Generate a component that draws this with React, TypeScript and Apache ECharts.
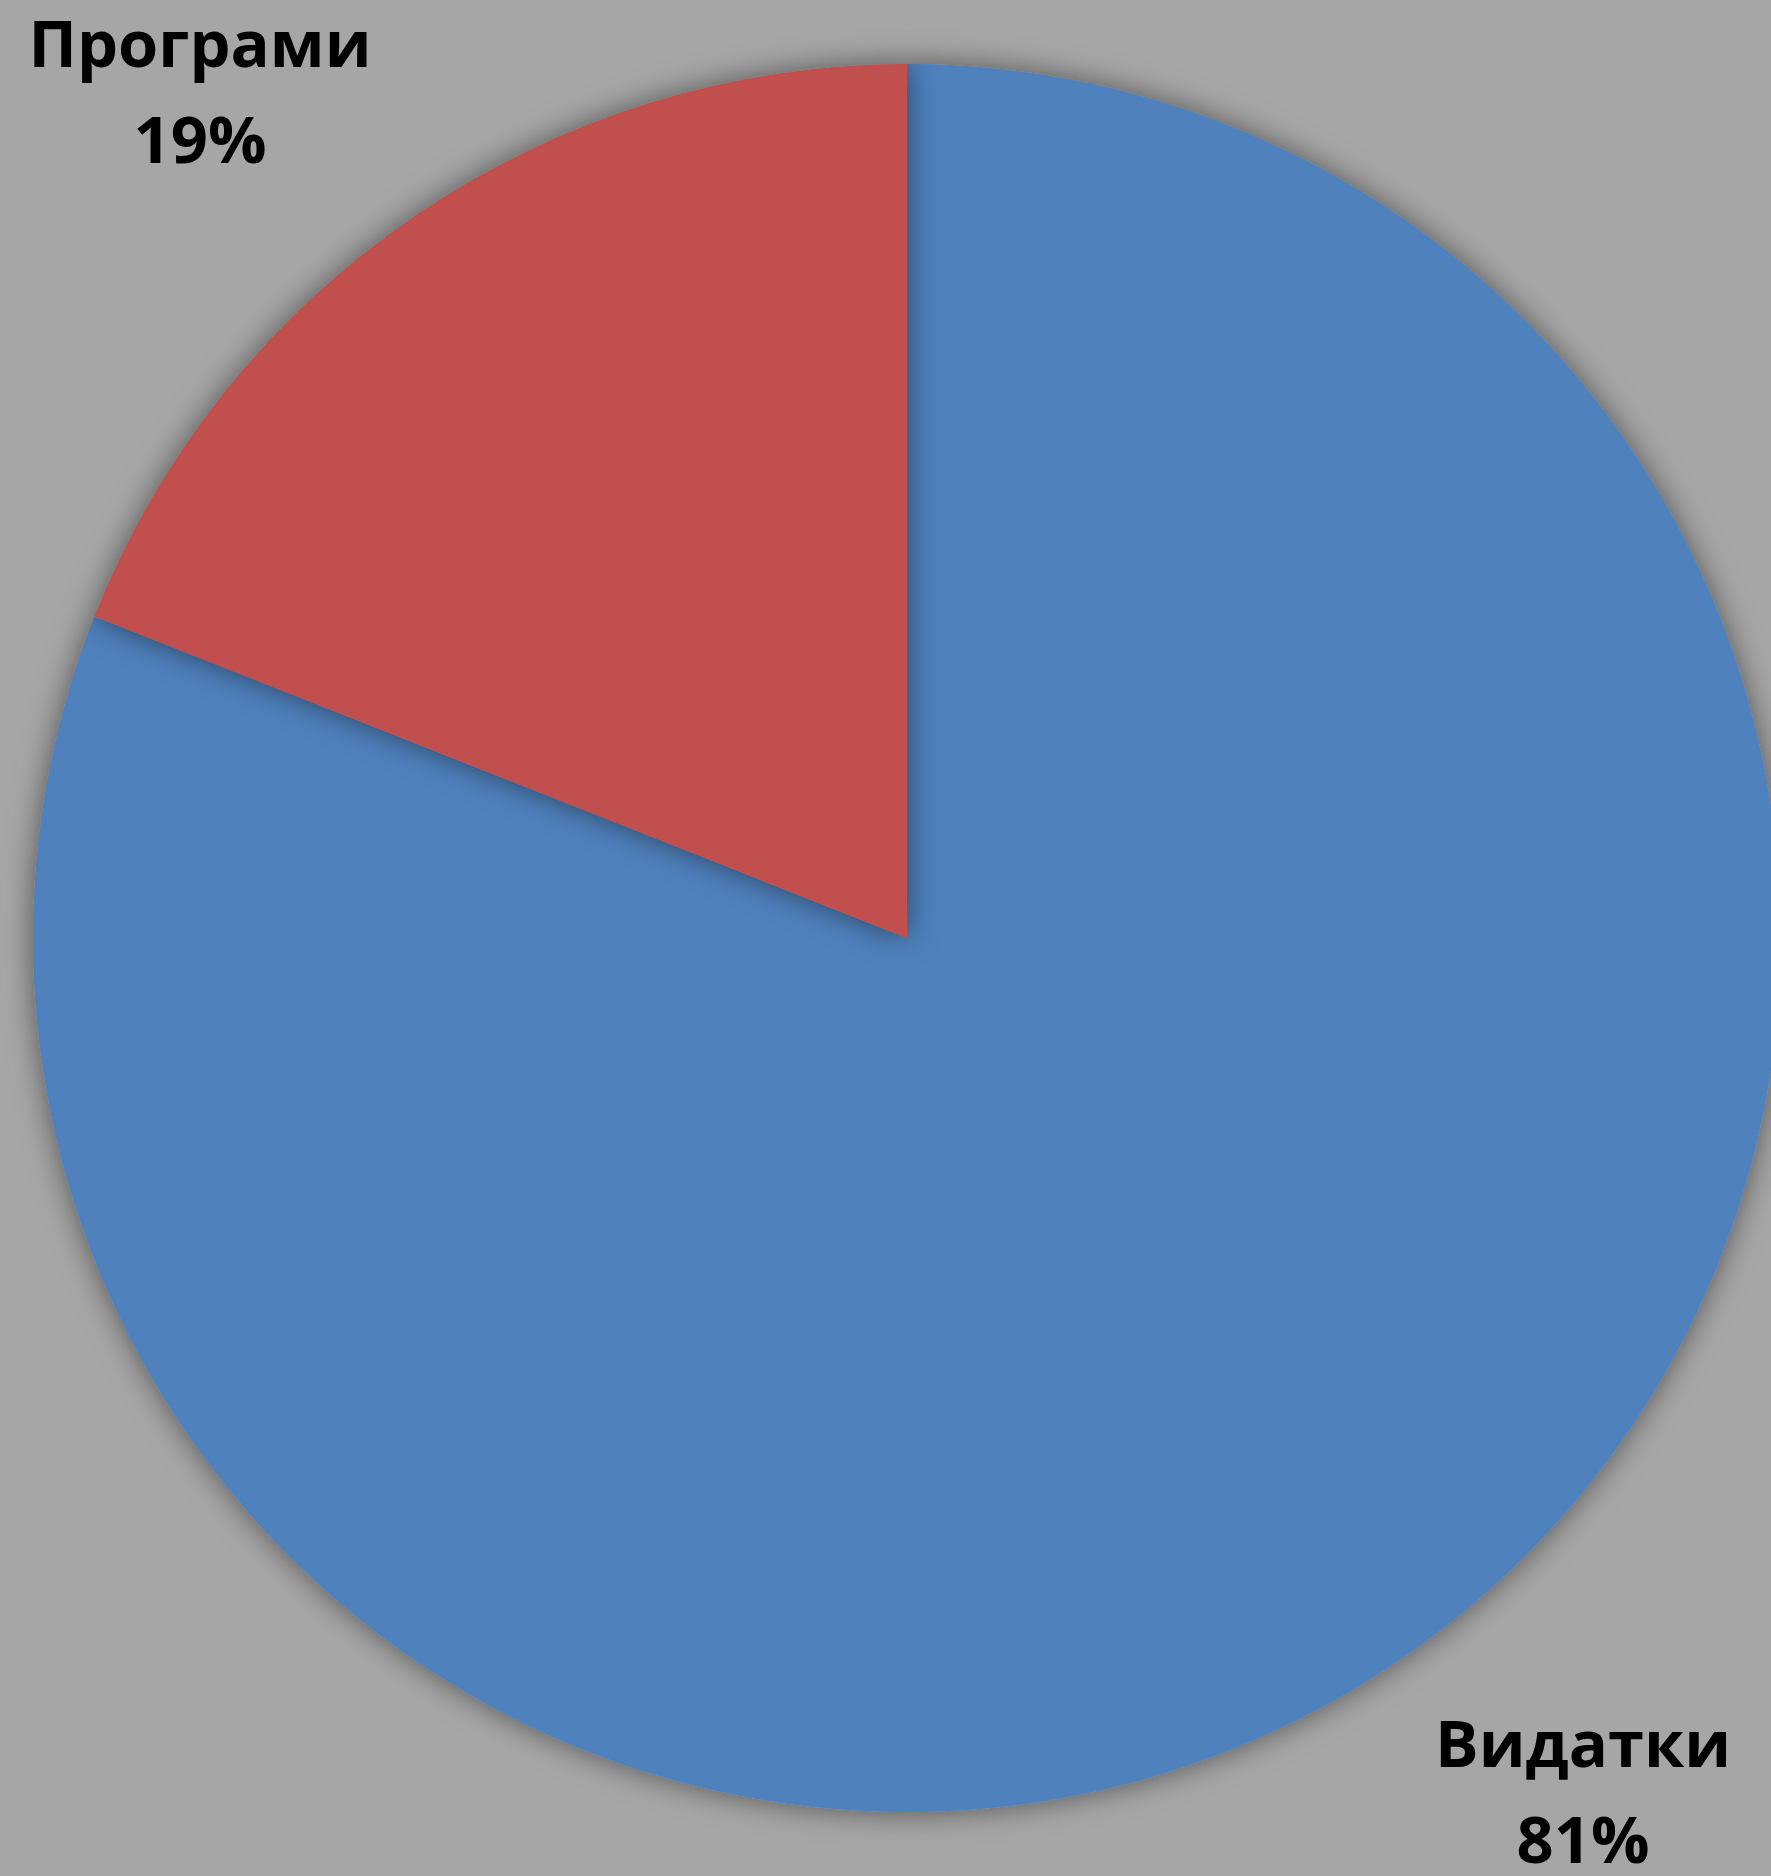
import React, { useEffect, useRef } from "react";
import * as echarts from "echarts";

const categories = ["Видатки", "Програми"];
const values = [81, 19];
const colors = ["#4F81BD", "#C0504D"];

export default function App() {
  const ref = useRef<HTMLDivElement>(null);
  useEffect(() => {
    if (!ref.current) return;
    const chart = echarts.init(ref.current, null, { renderer: "svg" });
    const labelPos = [
      { x: 1583, y: 1790 },
      { x: 200, y: 90 },
    ];
    chart.setOption({
      animation: false,
      backgroundColor: "#A6A6A6",
      series: [
        {
          type: "pie",
          center: [907, 938],
          radius: 874,
          startAngle: 90,
          clockwise: true,
          data: categories.map((c, i) => ({
            name: c,
            value: values[i],
            itemStyle: { color: colors[i] },
          })),
          itemStyle: {
            shadowBlur: 30,
            shadowColor: "rgba(0,0,0,0.5)",
            shadowOffsetX: 0,
            shadowOffsetY: 0,
          },
          label: {
            show: true,
            formatter: "{b}\n{d}%",
            fontFamily: "Open Sans",
            fontWeight: "bold",
            fontSize: 65,
            lineHeight: 96,
            color: "#000000",
            align: "center",
          },
          labelLine: { show: false },
          labelLayout: (params: any) => ({
            x: labelPos[params.dataIndex].x,
            y: labelPos[params.dataIndex].y,
            align: "center",
            verticalAlign: "middle",
          }),
          emphasis: { disabled: true },
        },
      ],
    });
    return () => chart.dispose();
  }, []);
  return (
    <div
      ref={ref}
      style={{ position: "fixed", left: 0, top: 0, width: 1771, height: 1876 }}
    />
  );
}
